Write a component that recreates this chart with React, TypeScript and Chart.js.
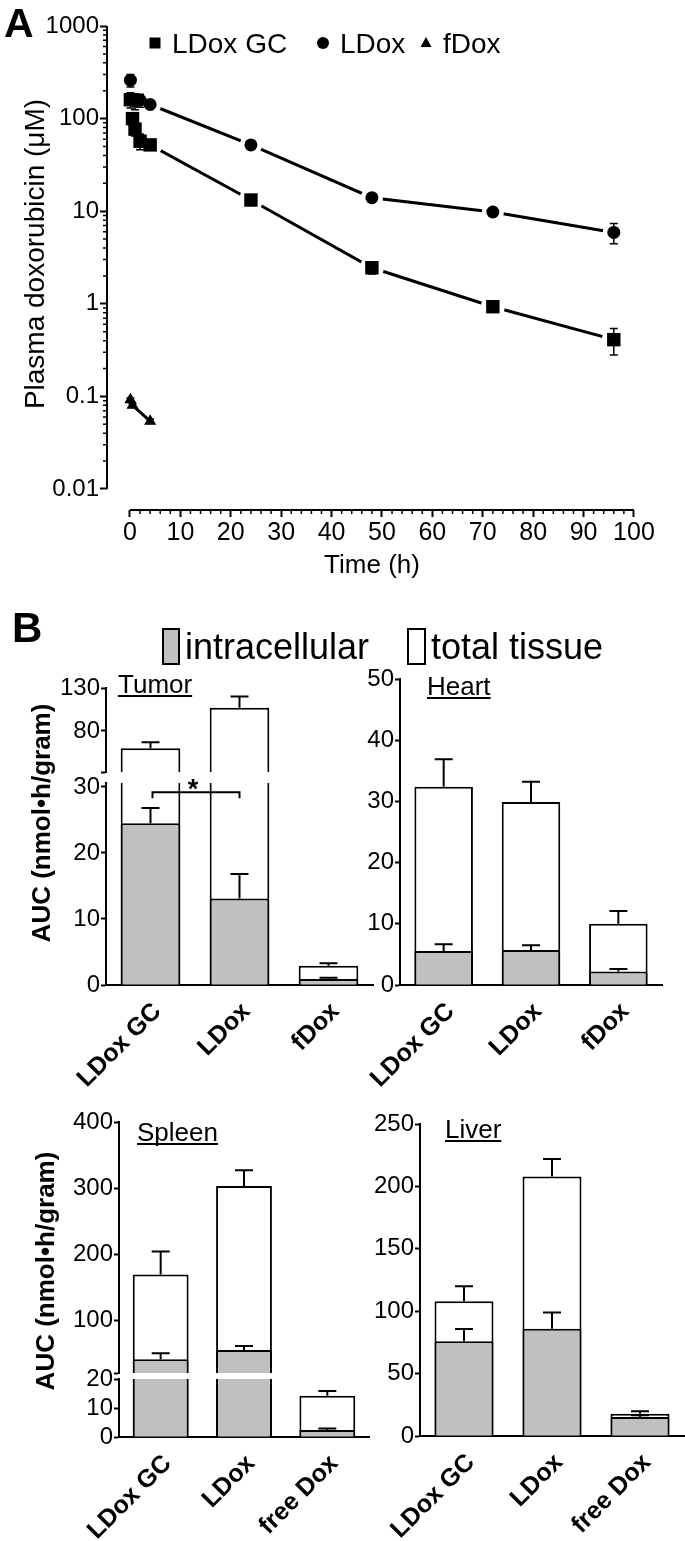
import React, { useEffect, useRef } from 'react';
import { Chart, registerables } from 'chart.js';

Chart.register(...registerables);

const W = 685;
const H = 1541;
const FONT = "'Liberation Sans', Arial, Helvetica, sans-serif";
const GRAY = '#c0c0c0';

// ---------------- Panel A data ----------------
const gcTimes = [0.083, 0.5, 1, 2, 4, 24, 48, 72, 96];
const gcConc = [160, 100, 77, 57, 52, 13.2, 2.45, 0.93, 0.41];
const gcErr = [30, 15, 12, 11, 5, 1.5, 0.35, 0.12, 0.13];
const ldoxTimes = [0.083, 1, 2, 4, 24, 48, 72, 96];
const ldoxConc = [260, 155, 158, 142, 52, 14, 9.8, 5.9];
const ldoxErr = [40, 30, 25, 8, 4, 1, 0.6, 1.45];
const fdoxTimes = [0.083, 0.5, 4];
const fdoxConc = [0.092, 0.08, 0.054];
const fdoxErr = [0.004, 0.004, 0.003];
const timeTicks = [0, 10, 20, 30, 40, 50, 60, 70, 80, 90, 100];
const timeMinorTicks = [2, 4, 6, 8, 12, 14, 16, 18, 22, 24, 26, 28, 32, 34, 36, 38, 42, 44, 46, 48, 52, 54, 56, 58, 62, 64, 66, 68, 72, 74, 76, 78, 82, 84, 86, 88, 92, 94, 96, 98];
const concTicks = [0.01, 0.1, 1, 10, 100, 1000];
const concTickLabels = ['0.01', '0.1', '1', '10', '100', '1000'];

// ---------------- Panel B data ----------------
const catsTop = ['LDox GC', 'LDox', 'fDox'];
const catsBottom = ['LDox GC', 'LDox', 'free Dox'];

const tumorIntra = [24.5, 13.1, 0.9];
const tumorIntraErr = [2.3, 3.7, 0.2];
const tumorTotal = [60, 107, 2.9];
const tumorTotalErr = [7, 13, 0.4];
const tumorTopTicks = [32.3, 80, 130];
const tumorTopLabels = [80, 130];
const tumorBottomTicks = [0, 10, 20, 30];

const heartIntra = [5.55, 5.7, 2.2];
const heartIntraErr = [1.1, 0.8, 0.4];
const heartTotal = [32.4, 29.9, 10.0];
const heartTotalErr = [4.5, 3.3, 2.1];
const heartTicks = [0, 10, 20, 30, 40, 50];

const spleenIntra = [41, 55, 2.4];
const spleenIntraErr = [9, 6, 0.5];
const spleenTotal = [169, 303, 14.2];
const spleenTotalErr = [35, 24, 1.7];
const spleenTopTicks = [20, 100, 200, 300, 400];
const spleenTopLabels = [100, 200, 300, 400];
const spleenBottomTicks = [0, 10, 20];

const liverIntra = [76, 86, 15.2];
const liverIntraErr = [9.7, 13, 1.5];
const liverTotal = [108, 208, 17.9];
const liverTotalErr = [12, 14, 2];
const liverTicks = [0, 50, 100, 150, 200, 250];

// ---------------- helpers ----------------
function pts(xs: number[], ys: number[]) {
  return xs.map((x, i) => ({ x, y: ys[i] }));
}

function drawText(ctx: any, s: string, x: number, y: number, size: number, o: any = {}) {
  ctx.save();
  ctx.font = `${o.bold ? 'bold ' : ''}${size}px ${FONT}`;
  ctx.fillStyle = '#000';
  ctx.textAlign = o.align || 'left';
  ctx.textBaseline = o.baseline || 'alphabetic';
  if (o.rotate) {
    ctx.translate(x, y);
    ctx.rotate(o.rotate);
    ctx.fillText(s, 0, 0);
  } else {
    ctx.fillText(s, x, y);
  }
  ctx.restore();
}

function underlined(ctx: any, s: string, x: number, y: number, size: number) {
  drawText(ctx, s, x, y, size);
  ctx.save();
  ctx.font = `${size}px ${FONT}`;
  const w = ctx.measureText(s).width;
  ctx.strokeStyle = '#000';
  ctx.lineWidth = 2;
  ctx.beginPath();
  ctx.moveTo(x, y + 3);
  ctx.lineTo(x + w, y + 3);
  ctx.stroke();
  ctx.restore();
}

// ---------------- Panel A ----------------
const seriesA = [
  { label: 'LDox GC', times: gcTimes, conc: gcConc, err: gcErr, style: 'rect', radius: 9.5, eraser: 12 },
  { label: 'LDox', times: ldoxTimes, conc: ldoxConc, err: ldoxErr, style: 'circle', radius: 6.5, eraser: 11 },
  { label: 'fDox', times: fdoxTimes, conc: fdoxConc, err: fdoxErr, style: 'triangle', radius: 7, eraser: 0 },
];

const panelAPlugin = {
  id: 'panelA',
  afterDatasetsDraw(chart: any) {
    const { ctx } = chart;
    const xs = chart.scales.x;
    const ys = chart.scales.y;
    ctx.save();
    ctx.strokeStyle = '#000';
    ctx.lineWidth = 1.5;
    chart.data.datasets.forEach((ds: any) => {
      if (!ds.errors) return;
      ds.data.forEach((p: any, i: number) => {
        const e = ds.errors[i];
        const x = xs.getPixelForValue(p.x);
        const yt = ys.getPixelForValue(p.y + e);
        const yb = ys.getPixelForValue(Math.max(p.y - e, 1e-6));
        ctx.beginPath();
        ctx.moveTo(x, yt);
        ctx.lineTo(x, yb);
        ctx.moveTo(x - 4, yt);
        ctx.lineTo(x + 4, yt);
        ctx.moveTo(x - 4, yb);
        ctx.lineTo(x + 4, yb);
        ctx.stroke();
      });
    });
    ctx.restore();
  },
  afterDraw(chart: any) {
    const { ctx, chartArea } = chart;
    const xs = chart.scales.x;
    const ys = chart.scales.y;
    ctx.save();
    ctx.strokeStyle = '#000';
    ctx.lineWidth = 2;
    ctx.beginPath();
    ctx.moveTo(chartArea.left, ys.getPixelForValue(concTicks[concTicks.length - 1]));
    ctx.lineTo(chartArea.left, ys.getPixelForValue(concTicks[0]));
    ctx.moveTo(xs.getPixelForValue(timeTicks[0]), chartArea.bottom);
    ctx.lineTo(xs.getPixelForValue(timeTicks[timeTicks.length - 1]), chartArea.bottom);
    ctx.stroke();
    ctx.lineWidth = 1.5;
    ctx.beginPath();
    for (let d = 0; d < concTicks.length - 1; d++) {
      for (let k = 2; k <= 9; k++) {
        const y = ys.getPixelForValue(concTicks[d] * k);
        ctx.moveTo(chartArea.left - 4, y);
        ctx.lineTo(chartArea.left, y);
      }
    }
    timeMinorTicks.forEach((t) => {
      const x = xs.getPixelForValue(t);
      ctx.moveTo(x, chartArea.bottom);
      ctx.lineTo(x, chartArea.bottom + 4);
    });
    ctx.stroke();
    ctx.restore();

    drawText(ctx, 'A', 4, 37, 41, { bold: true });
    drawText(ctx, 'Plasma doxorubicin (\u03bcM)', 36, 254, 28, { align: 'center', baseline: 'middle', rotate: -Math.PI / 2 });
    drawText(ctx, 'Time (h)', 372, 573, 26, { align: 'center' });

    const markers = chart.data.datasets.filter((d: any) => d.errors);
    const legendPos = [
      { mx: 155, tx: 172 },
      { mx: 323, tx: 340 },
      { mx: 426, tx: 443 },
    ];
    markers.forEach((ds: any, i: number) => {
      const { mx, tx } = legendPos[i];
      const my = 43;
      ctx.save();
      ctx.fillStyle = '#000';
      ctx.beginPath();
      if (ds.pointStyle === 'rect') ctx.rect(mx - 5.5, my - 5.5, 11, 11);
      else if (ds.pointStyle === 'circle') ctx.arc(mx, my, 6, 0, Math.PI * 2);
      else {
        ctx.moveTo(mx, my - 6);
        ctx.lineTo(mx + 5.5, my + 4);
        ctx.lineTo(mx - 5.5, my + 4);
        ctx.closePath();
      }
      ctx.fill();
      ctx.restore();
      drawText(ctx, ds.label, tx, 53, 28);
    });
  },
};

function panelAConfig(): any {
  const lineSets = seriesA.map((s) => ({
    type: 'scatter',
    label: s.label + ' line',
    data: pts(s.times, s.conc),
    showLine: true,
    borderColor: '#000',
    borderWidth: 3,
    pointStyle: 'circle',
    pointRadius: s.eraser,
    pointHoverRadius: s.eraser,
    pointBackgroundColor: '#fff',
    pointBorderColor: '#fff',
    pointBorderWidth: 0,
    order: 1,
    clip: false,
  }));
  const markerSets = seriesA.map((s) => ({
    type: 'scatter',
    label: s.label,
    data: pts(s.times, s.conc),
    errors: s.err,
    showLine: false,
    pointStyle: s.style,
    pointRadius: s.radius,
    pointHoverRadius: s.radius,
    pointBackgroundColor: '#000',
    pointBorderColor: '#000',
    pointBorderWidth: 0,
    order: 0,
    clip: false,
  }));
  const left = 107, top = 26, right = 640, bottom = 510;
  const yW = 107, xH = 80;
  return {
    type: 'scatter',
    data: { datasets: [...markerSets, ...lineSets] },
    options: {
      responsive: false,
      animation: false,
      events: [],
      layout: { padding: { left: left - yW, top, right: W - right, bottom: H - bottom - xH } },
      plugins: { legend: { display: false }, tooltip: { enabled: false } },
      scales: {
        x: {
          type: 'linear',
          position: 'bottom',
          min: -4.56,
          max: 101.2,
          bounds: 'data',
          afterBuildTicks: (s: any) => {
            s.ticks = timeTicks.map((v) => ({ value: v }));
          },
          afterFit: (s: any) => {
            s.height = xH;
          },
          ticks: { font: { family: FONT, size: 25 }, color: '#000', padding: 1, maxRotation: 0, autoSkip: false },
          grid: { drawOnChartArea: false, drawTicks: true, tickLength: 7, tickColor: '#000', tickWidth: 2 },
          border: { display: false },
        },
        y: {
          type: 'logarithmic',
          min: 0.005932,
          max: 1000,
          bounds: 'data',
          afterBuildTicks: (s: any) => {
            s.ticks = concTicks.map((v) => ({ value: v }));
          },
          afterFit: (s: any) => {
            s.width = yW;
          },
          ticks: {
            font: { family: FONT, size: 24 },
            color: '#000',
            padding: 1,
            autoSkip: false,
            callback: (v: number) => {
              const i = concTicks.findIndex((t) => Math.abs(t - v) / t < 1e-6);
              return i >= 0 ? concTickLabels[i] : '';
            },
          },
          grid: { drawOnChartArea: false, drawTicks: true, tickLength: 7, tickColor: '#000', tickWidth: 2 },
          border: { display: false },
        },
      },
    },
    plugins: [panelAPlugin],
  };
}

// ---------------- Panel B ----------------
const errorBarPlugin = {
  id: 'barErrors',
  afterDatasetsDraw(chart: any) {
    const { ctx, chartArea } = chart;
    const ys = chart.scales.y;
    ctx.save();
    ctx.beginPath();
    ctx.rect(chartArea.left, chartArea.top - 1, chartArea.right - chartArea.left, chartArea.bottom - chartArea.top + 1);
    ctx.clip();
    ctx.strokeStyle = '#000';
    ctx.lineWidth = 2;
    chart.data.datasets.forEach((ds: any, di: number) => {
      const meta = chart.getDatasetMeta(di);
      (ds.errors || []).forEach((e: number, i: number) => {
        const x = meta.data[i].x;
        const y0 = ys.getPixelForValue(ds.data[i]);
        const y1 = ys.getPixelForValue(ds.data[i] + e);
        ctx.beginPath();
        ctx.moveTo(x, y0);
        ctx.lineTo(x, y1);
        ctx.moveTo(x - 9, y1);
        ctx.lineTo(x + 9, y1);
        ctx.stroke();
      });
    });
    ctx.restore();
  },
};

function barConfig(p: any): any {
  const yW = 60;
  const xH = p.showX ? 110 : 0;
  const base = {
    borderColor: '#000',
    borderWidth: 2,
    grouped: false,
    clip: 0,
    barPercentage: 0.67,
    categoryPercentage: 1,
    borderSkipped: 'start',
  };
  const labelled = p.labels || p.ticks;
  return {
    type: 'bar',
    data: {
      labels: p.cats,
      datasets: [
        { ...base, label: 'intracellular', data: p.intra, errors: p.intraErr, backgroundColor: GRAY, order: 0 },
        { ...base, label: 'total tissue', data: p.total, errors: p.totalErr, backgroundColor: '#fff', order: 1 },
      ],
    },
    options: {
      responsive: false,
      animation: false,
      events: [],
      layout: { padding: { left: p.left - yW, top: p.top, right: W - p.right, bottom: H - p.bottom - xH } },
      plugins: { legend: { display: false }, tooltip: { enabled: false } },
      scales: {
        x: {
          type: 'category',
          offset: true,
          display: p.showX,
          afterFit: (s: any) => {
            s.height = xH;
          },
          ticks: {
            font: { family: FONT, size: 25, weight: 'bold' },
            color: '#000',
            minRotation: 45,
            maxRotation: 45,
            padding: 12,
            labelOffset: 7,
            autoSkip: false,
          },
          grid: { display: false, drawTicks: false },
          border: { display: true, color: '#000', width: 2 },
        },
        y: {
          type: 'linear',
          min: p.min,
          max: p.max,
          bounds: 'data',
          afterBuildTicks: (s: any) => {
            s.ticks = p.ticks.map((v: number) => ({ value: v }));
          },
          afterFit: (s: any) => {
            s.width = yW;
          },
          ticks: {
            font: { family: FONT, size: 24 },
            color: '#000',
            padding: 1,
            autoSkip: false,
            callback: (v: number) => (labelled.includes(v) ? String(v) : ''),
          },
          grid: { drawOnChartArea: false, drawTicks: true, tickLength: 5, tickColor: '#000', tickWidth: 2 },
          border: { display: true, color: '#000', width: 2 },
        },
      },
    },
    plugins: [errorBarPlugin, { id: 'extra', afterDraw: (c: any) => p.extra && p.extra(c) }],
  };
}

function drawLegendB(ctx: any) {
  drawText(ctx, 'B', 12, 642, 42, { bold: true });
  ctx.save();
  ctx.strokeStyle = '#000';
  ctx.lineWidth = 2;
  ctx.fillStyle = GRAY;
  ctx.fillRect(163, 629, 16, 35);
  ctx.strokeRect(163, 629, 16, 35);
  ctx.fillStyle = '#fff';
  ctx.fillRect(408, 629, 17, 35);
  ctx.strokeRect(408, 629, 17, 35);
  ctx.restore();
  drawText(ctx, 'intracellular', 185, 659, 36);
  drawText(ctx, 'total tissue', 431, 659, 36);
}

function auc(ctx: any, x: number, y: number) {
  drawText(ctx, 'AUC (nmol\u2022h/gram)', x, y, 26, { bold: true, align: 'center', baseline: 'middle', rotate: -Math.PI / 2 });
}

const panelsB = [
  {
    cats: catsTop, intra: tumorIntra, intraErr: tumorIntraErr, total: tumorTotal, totalErr: tumorTotalErr,
    left: 106, right: 373, top: 688, bottom: 772, min: 32.3, max: 130, ticks: tumorTopTicks, labels: tumorTopLabels, showX: false,
    extra: (c: any) => {
      drawLegendB(c.ctx);
      underlined(c.ctx, 'Tumor', 118, 693, 26);
    },
  },
  {
    cats: catsTop, intra: tumorIntra, intraErr: tumorIntraErr, total: tumorTotal, totalErr: tumorTotalErr,
    left: 106, right: 373, top: 783, bottom: 985, min: 0, max: 30.6, ticks: tumorBottomTicks, showX: true,
    extra: (c: any) => {
      const { ctx } = c;
      const meta = c.getDatasetMeta(0);
      const y = c.scales.y.getPixelForValue(29.2);
      const x0 = meta.data[0].x + 2;
      const x1 = meta.data[1].x;
      ctx.save();
      ctx.strokeStyle = '#000';
      ctx.lineWidth = 2;
      ctx.beginPath();
      ctx.moveTo(x0, y + 6);
      ctx.lineTo(x0, y);
      ctx.lineTo(x1, y);
      ctx.lineTo(x1, y + 6);
      ctx.stroke();
      ctx.restore();
      drawText(ctx, '*', (x0 + x1) / 2 - 3, y + 6, 27, { bold: true, align: 'center' });
      auc(ctx, 43, 823);
    },
  },
  {
    cats: catsTop, intra: heartIntra, intraErr: heartIntraErr, total: heartTotal, totalErr: heartTotalErr,
    left: 400, right: 662, top: 679, bottom: 985, min: 0, max: 50, ticks: heartTicks, showX: true,
    extra: (c: any) => underlined(c.ctx, 'Heart', 427, 695, 26),
  },
  {
    cats: catsBottom, intra: spleenIntra, intraErr: spleenIntraErr, total: spleenTotal, totalErr: spleenTotalErr,
    left: 119, right: 369, top: 1122, bottom: 1373, min: 20, max: 400, ticks: spleenTopTicks, labels: spleenTopLabels, showX: false,
    extra: (c: any) => {
      underlined(c.ctx, 'Spleen', 137, 1141, 26);
      auc(c.ctx, 47, 1271);
    },
  },
  {
    cats: catsBottom, intra: spleenIntra, intraErr: spleenIntraErr, total: spleenTotal, totalErr: spleenTotalErr,
    left: 119, right: 369, top: 1379, bottom: 1437, min: 0, max: 20, ticks: spleenBottomTicks, showX: true,
  },
  {
    cats: catsBottom, intra: liverIntra, intraErr: liverIntraErr, total: liverTotal, totalErr: liverTotalErr,
    left: 420, right: 684, top: 1124, bottom: 1436, min: 0, max: 250, ticks: liverTicks, showX: true,
    extra: (c: any) => underlined(c.ctx, 'Liver', 445, 1138, 26),
  },
];

export default function App() {
  const refs = useRef<(HTMLCanvasElement | null)[]>([]);
  const count = 1 + panelsB.length;

  useEffect(() => {
    const configs = [panelAConfig(), ...panelsB.map((p) => barConfig(p))];
    const charts = configs.map((cfg, i) => new Chart(refs.current[i] as HTMLCanvasElement, cfg));
    return () => {
      charts.forEach((c) => c.destroy());
    };
  }, []);

  return (
    <div style={{ position: 'absolute', left: 0, top: 0, width: W, height: H, background: '#fff', overflow: 'hidden' }}>
      {Array.from({ length: count }).map((_, i) => (
        <canvas
          key={i}
          ref={(el) => {
            refs.current[i] = el;
          }}
          width={W}
          height={H}
          style={{ position: 'absolute', left: 0, top: 0, width: W, height: H }}
        />
      ))}
    </div>
  );
}
